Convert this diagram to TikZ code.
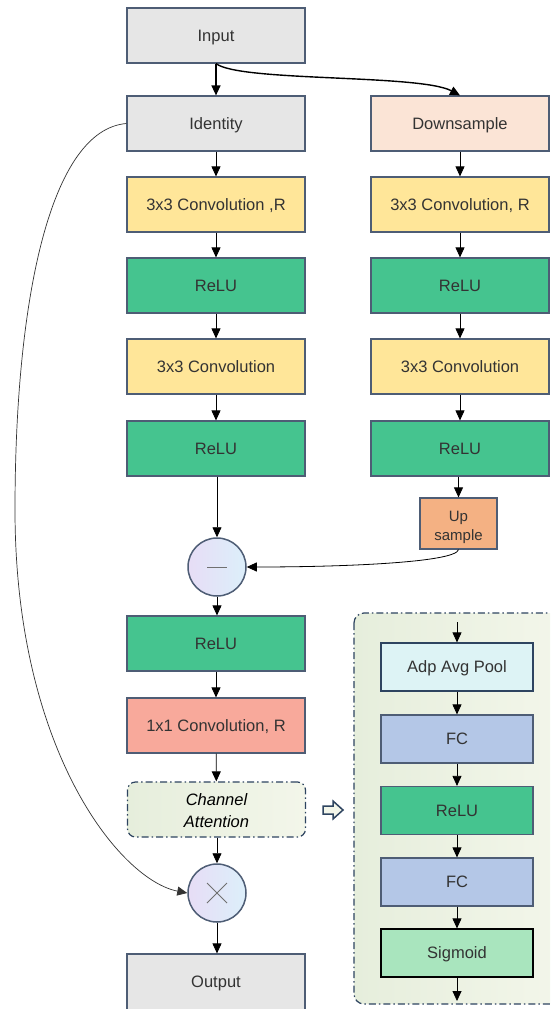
\documentclass[tikz,border=0pt]{standalone}
\usepackage{fontspec}
\setmainfont{Liberation Sans}
\usetikzlibrary{arrows.meta,shapes.geometric}
\definecolor{bordc}{HTML}{4E5D75}
\definecolor{darkb}{HTML}{2E4460}
\definecolor{txtc}{HTML}{333333}
\definecolor{grayf}{HTML}{E6E6E6}
\definecolor{downf}{HTML}{FBE4D6}
\definecolor{convf}{HTML}{FFE699}
\definecolor{reluf}{HTML}{45C48F}
\definecolor{upf}{HTML}{F4B183}
\definecolor{onef}{HTML}{F8A99B}
\definecolor{poolf}{HTML}{DDF3F5}
\definecolor{fcf}{HTML}{B4C7E7}
\definecolor{sigf}{HTML}{A9E5BE}
\definecolor{signc}{HTML}{707070}
\definecolor{lavf}{HTML}{E7DDF6}
\definecolor{skyf}{HTML}{DCEFFA}
\definecolor{caf1}{HTML}{E6EEDC}
\definecolor{caf2}{HTML}{F3F6EA}
\tikzset{
  box/.style={draw=bordc, line width=1.2pt, minimum width=178pt, minimum height=55pt,
    inner sep=0pt, text=txtc, text height=11.8pt, text depth=0pt,
    font=\fontsize{16.5}{19}\selectfont},
  ibox/.style={box, minimum width=152pt, minimum height=48pt},
  lbl/.style={inner sep=0pt, align=center},
  opnode/.style={circle, draw=bordc, line width=1.5pt, minimum size=58pt, inner sep=0pt,
    left color=lavf, right color=skyf},
  arr/.style={-{Triangle[length=10pt,width=9pt]}, line width=0.8pt, draw=black},
  thinline/.style={line width=0.7pt, draw=black!80},
  dashdot/.style={dash pattern=on 7pt off 3pt on 1.5pt off 3pt},
}
\begin{document}
\begin{tikzpicture}[x=1pt, y=-1pt]
\clip (0,0) rectangle (550,1009);
\fill[white] (0,0) rectangle (550,1009);

% channel attention detail panel
\draw[darkb, line width=1.2pt, dashdot, rounded corners=10pt, left color=caf1, right color=caf2]
  (354,613) rectangle (562,1004);

% left branch
\node[box, fill=grayf] (in)  at (216,35.5)  {Input};
\node[box, fill=grayf] (id)  at (216,123.5) {Identity};
\node[box, fill=convf] (c1)  at (216,204.5) {3x3 Convolution ,R};
\node[box, fill=reluf] (r1)  at (216,285.5) {ReLU};
\node[box, fill=convf] (c2)  at (216,366.5) {3x3 Convolution};
\node[box, fill=reluf] (r2)  at (216,448.5) {ReLU};
\node[opnode, path picture={\draw[signc, line width=1pt]
    ([xshift=-10pt]path picture bounding box.center) -- ([xshift=10pt]path picture bounding box.center);}]
  (sub) at (217,567) {};
\node[box, fill=reluf] (r3)  at (216,643.5) {ReLU};
\node[box, fill=onef]  (c3)  at (216,725.5) {1x1 Convolution, R};
\node[draw=darkb, line width=1.2pt, dashdot, rounded corners=8pt, minimum width=178pt,
  minimum height=55pt, inner sep=0pt, left color=caf1, right color=caf2] (ca) at (216.5,809.5) {};
\node[lbl, text=black, font=\fontsize{16.5}{22}\selectfont\itshape] (cal) at (216.5,810.5) {Channel\\Attention};
\node[opnode, path picture={\draw[signc, line width=1pt]
    ([shift={(-10pt,-10pt)}]path picture bounding box.center) -- ([shift={(10pt,10pt)}]path picture bounding box.center)
    ([shift={(-10pt,10pt)}]path picture bounding box.center) -- ([shift={(10pt,-10pt)}]path picture bounding box.center);}]
  (mul) at (217,893) {};
\node[box, fill=grayf, minimum height=58pt] (out) at (216,983) {};
\node[text=txtc, text height=11.8pt, text depth=0pt, inner sep=0pt,
  font=\fontsize{16.5}{19}\selectfont] (outl) at (216,982) {Output};

% right branch
\node[box, fill=downf] (ds)  at (460,123.5) {Downsample};
\node[box, fill=convf] (d1)  at (460,204.5) {3x3 Convolution, R};
\node[box, fill=reluf] (d2)  at (460,285.5) {ReLU};
\node[box, fill=convf] (d3)  at (460,366.5) {3x3 Convolution};
\node[box, fill=reluf] (d4)  at (460,448.5) {ReLU};
\node[box, fill=upf, minimum width=77pt, minimum height=51pt] (up) at (458.5,523.5) {};
\node[lbl, text=txtc, font=\fontsize{15}{19}\selectfont] (upl) at (458.5,527) {Up\\sample};

% attention internals
\coordinate (pin)  at (457,622);
\coordinate (pout) at (457,1001);
\node[ibox, fill=poolf, draw=darkb] (pool) at (457,667) {Adp Avg Pool};
\node[ibox, fill=fcf]   (fc1)  at (457,739) {FC};
\node[ibox, fill=reluf] (rl)   at (457,810.5) {ReLU};
\node[ibox, fill=fcf]   (fc2)  at (457,882) {FC};
\node[ibox, fill=sigf, draw=black] (sig) at (457,953) {Sigmoid};

% hollow arrow pointing to the panel
\draw[darkb, line width=1.5pt, fill=caf2, line join=miter]
  (323,806) -- (333,806) -- (333,801) -- (343,810) -- (333,819) -- (333,814) -- (323,814) -- cycle;

% connectors, left
\draw[arr, line width=1.4pt] (in) -- (id);
\draw[arr, line width=1.4pt] (in.south) .. controls (240,82) and (420,74) .. (ds.north);
\draw[arr] (id) -- (c1);
\draw[arr] (c1) -- (r1);
\draw[arr] (r1) -- (c2);
\draw[arr] (c2) -- (r2);
\draw[arr] (r2.south -| sub) -- (sub);
\draw[arr] (sub) -- (r3.north -| sub);
\draw[arr] (r3) -- (c3);
\draw[arr] (c3) -- (ca);
\draw[arr] (ca.south -| mul) -- (mul);
\draw[arr] (mul) -- (out.north -| mul);

% connectors, right
\draw[arr] (ds) -- (d1);
\draw[arr] (d1) -- (d2);
\draw[arr] (d2) -- (d3);
\draw[arr] (d3) -- (d4);
\draw[arr] (d4.south -| up) -- (up);
\draw[arr] (up.south) .. controls (456,562) and (350,567) .. (sub.east);

% identity skip
\draw[thinline, -{Triangle[length=10pt,width=9pt]}] (id.west)
  .. controls (50,130) and (15,300) .. (15,510)
  .. controls (15,750) and (120,880) .. (mul.west);

% connectors, attention internals
\draw[arr] (pin) -- (pool);
\draw[arr] (pool) -- (fc1);
\draw[arr] (fc1) -- (rl);
\draw[arr] (rl) -- (fc2);
\draw[arr] (fc2) -- (sig);
\draw[arr] (sig) -- (pout);
\end{tikzpicture}
\end{document}
